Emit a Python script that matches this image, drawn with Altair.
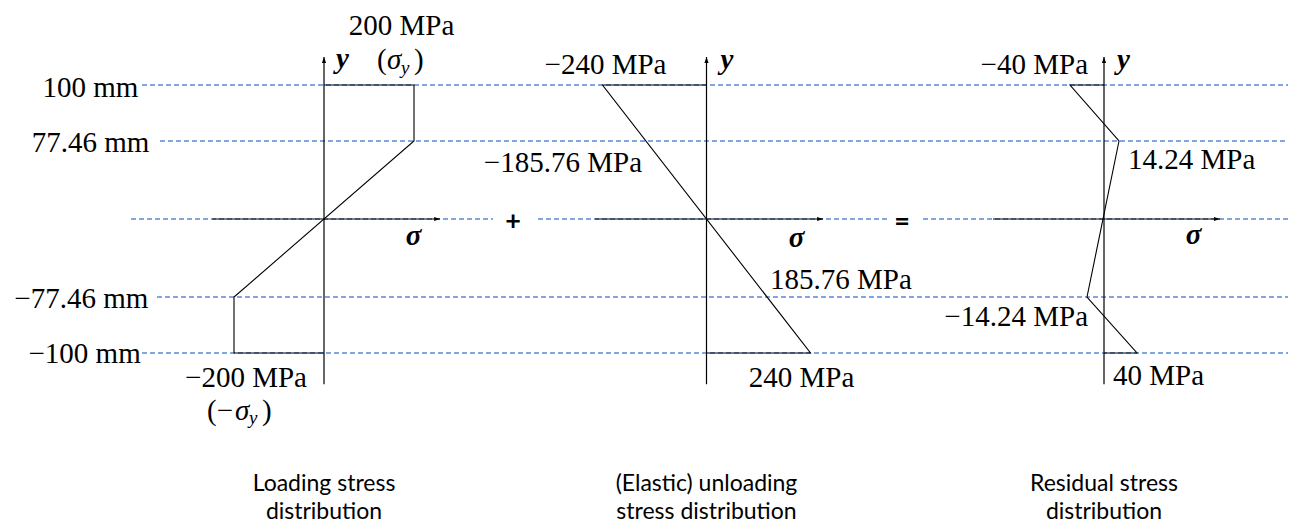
import altair as alt
import pandas as pd

# ------------------------------------------------------------------ data
levels_mm = [100, 77.46, 0, -77.46, -100]
level_label_mm = [100, 77.46, -77.46, -100]
level_label_text = ["100 mm", "77.46 mm", "−77.46 mm", "−100 mm"]

loading_sigma = [0, 200, 200, -200, -200, 0]
loading_y = [100, 100, 77.46, -77.46, -100, -100]
unloading_sigma = [0, -240, 240, 0]
unloading_y = [100, 100, -100, -100]
residual_sigma = [0, -40, 14.24, -14.24, 40, 0]
residual_y = [100, 100, 77.46, -77.46, -100, -100]

# value annotations: (text, sigma, y)
loading_notes = [("200 MPa", 200, 100), ("−200 MPa", -200, -100)]
unloading_notes = [("−240 MPa", -240, 100), ("−185.76 MPa", -185.76, 77.46),
                   ("185.76 MPa", 185.76, -77.46), ("240 MPa", 240, -100)]
residual_notes = [("−40 MPa", -40, 100), ("14.24 MPa", 14.24, 77.46),
                  ("−14.24 MPa", -14.24, -77.46), ("40 MPa", 40, -100)]

captions = ["Loading stress\ndistribution",
            "(Elastic) unloading\nstress distribution",
            "Residual stress\ndistribution"]
operators = ["+", "="]

# drawn extents of the sketch axes (arrows)
sigma_axis_ext = [[-248, 258], [-257, 269], [-156.7, 158.8]]
y_axis_ext = [-112.6, 111.3]

# ------------------------------------------------------------------ styles
SERIF = "Liberation Serif, Times New Roman, serif"
SANS = "Lato, Carlito, Open Sans, sans-serif"
FS = 29
SUB = 19
DASH_BLUE = "#5A8AD6"

YS = alt.Scale(domain=[-100, -77.46, 0, 77.46, 100],
               range=[345, 289, 211, 133, 77], nice=False, zero=False)
XS = [
    alt.Scale(domain=[-200, 200], range=[226, 406], nice=False, zero=False),
    alt.Scale(domain=[-240, 240], range=[594.5, 802.5], nice=False, zero=False),
    alt.Scale(domain=[-40, -14.24, 0, 14.24, 40],
              range=[1062, 1079, 1096, 1111, 1129], nice=False, zero=False),
]

ARROW_RIGHT = "M0,0L-2,-0.7L-2,0.7Z"
ARROW_UP = "M0,0L-0.7,2L0.7,2Z"


def ytick(field="y"):
    return alt.Y(f"{field}:Q", scale=YS, axis=None)


def text_at(text, sig, yv, xs, dx, dy, align="center", font=SERIF, size=FS,
            style="normal", weight="normal"):
    df = pd.DataFrame({"sigma": [sig], "y": [yv], "t": [text]})
    return alt.Chart(df).mark_text(
        align=align, baseline="alphabetic", dx=dx, dy=dy, font=font,
        fontSize=size, fontStyle=style, fontWeight=weight, color="black"
    ).encode(x=alt.X("sigma:Q", scale=xs, axis=None), y=ytick(), text="t:N")


def profile(sig, ys, xs):
    df = pd.DataFrame({"sigma": sig, "y": ys, "i": list(range(len(sig)))})
    return alt.Chart(df).mark_line(color="black", strokeWidth=1.1).encode(
        x=alt.X("sigma:Q", scale=xs, axis=None), y=ytick(), order="i:Q")


def sketch_axes(xs, ext):
    h = pd.DataFrame({"s0": [ext[0]], "s1": [ext[1]], "y": [0]})
    v = pd.DataFrame({"s": [0], "y0": [y_axis_ext[0]], "y1": [y_axis_ext[1]]})
    hr = alt.Chart(h).mark_rule(color="black", strokeWidth=1.2).encode(
        x=alt.X("s0:Q", scale=xs, axis=None), x2="s1:Q", y=ytick())
    vr = alt.Chart(v).mark_rule(color="black", strokeWidth=1.2).encode(
        x=alt.X("s:Q", scale=xs, axis=None), y=ytick("y0"), y2="y1:Q")
    ha = alt.Chart(h).mark_point(shape=ARROW_RIGHT, filled=True, size=36,
                                 color="black", opacity=1, strokeWidth=0).encode(
        x=alt.X("s1:Q", scale=xs, axis=None), y=ytick())
    va = alt.Chart(v).mark_point(shape=ARROW_UP, filled=True, size=36,
                                 color="black", opacity=1, strokeWidth=0).encode(
        x=alt.X("s:Q", scale=xs, axis=None), y=ytick("y1"))
    return [hr, vr, ha, va]


def caption(text, xs):
    df = pd.DataFrame({"sigma": [0], "t": [text]})
    return alt.Chart(df).mark_text(
        align="center", baseline="alphabetic", font=SANS, fontSize=23,
        lineBreak="\n", lineHeight=28, color="black"
    ).encode(x=alt.X("sigma:Q", scale=xs, axis=None), y=alt.value(483), text="t:N")


def bold_sym(ch, sig, yv, xs, dx, dy):
    return text_at(ch, sig, yv, xs, dx, dy, style="italic", weight="bold")


# ------------------------------------------------------------------ dashed guide lines
dash_layers = []
dash_start = {100: 134, 77.46: 152, -77.46: 149, -100: 134}
for lv in levels_mm:
    df = pd.DataFrame({"y": [lv]})
    if lv == 0:
        segs = [(123, 485), (530, 879), (915, 1280)]
    else:
        segs = [(dash_start[lv], 1280)]
    for a, b in segs:
        dash_layers.append(alt.Chart(df).mark_rule(
            color=DASH_BLUE, strokeWidth=1.5, strokeDash=[5, 3]
        ).encode(x=alt.value(a), x2=alt.value(b), y=ytick()))

# level labels on the left
level_offsets = [(130.3, 11.5), (141.3, 10.5), (140.3, 10.5), (132.7, 10)]
level_layers = []
for t, lv, (xr, dy) in zip(level_label_text, level_label_mm, level_offsets):
    df = pd.DataFrame({"y": [lv], "t": [t]})
    level_layers.append(alt.Chart(df).mark_text(
        align="right", baseline="alphabetic", dy=dy, font=SERIF, fontSize=FS,
        color="black").encode(x=alt.value(xr), y=ytick(), text="t:N"))

# operators
op_layers = []
for t, xv in zip(operators, [505, 894]):
    df = pd.DataFrame({"y": [0], "t": [t]})
    op_layers.append(alt.Chart(df).mark_text(
        align="center", baseline="middle", font=SANS, fontSize=27,
        fontWeight="bold", color="black", dy=2.5).encode(
        x=alt.value(xv), y=ytick(), text="t:N"))

# ------------------------------------------------------------------ panel 1
x1 = XS[0]
p1 = [profile(loading_sigma, loading_y, x1)] + sketch_axes(x1, sigma_axis_ext[0]) + [
    text_at(loading_notes[0][0], loading_notes[0][1], loading_notes[0][2], x1, -12.5, -50.5),
    text_at("(", 200, 100, x1, -37, -16, align="left"),
    text_at("σ", 200, 100, x1, -27, -16, align="left", style="italic"),
    text_at("y", 200, 100, x1, -13, -11.5, align="left", style="italic", size=SUB),
    text_at(")", 200, 100, x1, 0, -16, align="left"),
    text_at(loading_notes[1][0], loading_notes[1][1], loading_notes[1][2], x1, 12, 34),
    text_at("(−", -200, -100, x1, -27, 66.5, align="left"),
    text_at("σ", -200, -100, x1, 1, 66.5, align="left", style="italic"),
    text_at("y", -200, -100, x1, 15, 70.5, align="left", style="italic", size=SUB),
    text_at(")", -200, -100, x1, 28, 66.5, align="left"),
    bold_sym("y", 0, 100, x1, 18.5, -17.5),
    bold_sym("σ", 0, 0, x1, 89.5, 26),
    caption(captions[0], x1),
]

# ------------------------------------------------------------------ panel 2
x2 = XS[1]
u_off = [(3, -11.5, "center"), (16, 30.5, "right"), (-17, -8.5, "left"), (-9, 34, "center")]
p2 = [profile(unloading_sigma, unloading_y, x2)] + sketch_axes(x2, sigma_axis_ext[1]) + [
    text_at(t, s, yv, x2, dx, dy, align=al)
    for (t, s, yv), (dx, dy, al) in zip(unloading_notes, u_off)
] + [
    bold_sym("y", 0, 100, x2, 20.5, -16.5),
    bold_sym("σ", 0, 0, x2, 90, 28),
    caption(captions[1], x2),
]

# ------------------------------------------------------------------ panel 3
x3 = XS[2]
r_off = [(18, -11.5, "right"), (9, 27.5, "left"), (1, 28.5, "right"), (-24, 32, "left")]
p3 = [profile(residual_sigma, residual_y, x3)] + sketch_axes(x3, sigma_axis_ext[2]) + [
    text_at(t, s, yv, x3, dx, dy, align=al)
    for (t, s, yv), (dx, dy, al) in zip(residual_notes, r_off)
] + [
    bold_sym("y", 0, 100, x3, 19.5, -16.5),
    bold_sym("σ", 0, 0, x3, 89.5, 25),
    caption(captions[2], x3),
]

chart = alt.layer(
    *dash_layers, *level_layers, *op_layers,
    alt.layer(*p1), alt.layer(*p2), alt.layer(*p3)
).resolve_scale(x="independent").properties(
    width=1280, height=516, padding=0, autosize="none"
).configure_view(stroke=None)

chart.save("out.html", embed_options={"renderer": "svg", "actions": False})
